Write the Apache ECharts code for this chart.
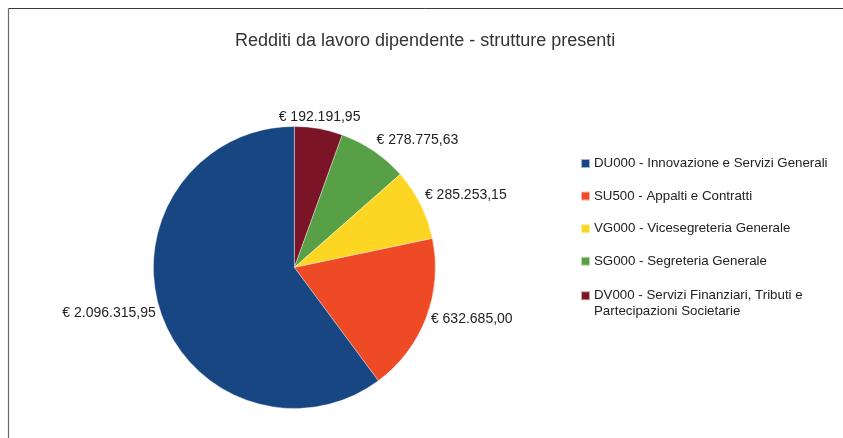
<!DOCTYPE html>
<html><head><meta charset="utf-8">
<script src="https://cdn.jsdelivr.net/npm/echarts@6/dist/echarts.min.js"></script>
<style>html,body{margin:0;padding:0;background:#fff}#c{width:843px;height:438px}</style>
</head><body><div id="c"></div>
<script>
const titleText = 'Redditi da lavoro dipendente - strutture presenti';
// data order = clockwise from 12 o'clock
const categories = [
  'DV000 - Servizi Finanziari, Tributi e Partecipazioni Societarie',
  'SG000 - Segreteria Generale',
  'VG000 - Vicesegreteria Generale',
  'SU500 - Appalti e Contratti',
  'DU000 - Innovazione e Servizi Generali'
];
const values = [192191.95, 278775.63, 285253.15, 632685.00, 2096315.95];
const colors = ['#7b1427', '#58a046', '#fdd623', '#ef4a26', '#184683'];
const legendOrderMain = [
  'DU000 - Innovazione e Servizi Generali',
  'SU500 - Appalti e Contratti',
  'VG000 - Vicesegreteria Generale',
  'SG000 - Segreteria Generale'
];
const legendOrderLast = ['DV000 - Servizi Finanziari, Tributi e Partecipazioni Societarie'];

function fmtEuro(v) {
  const parts = v.toFixed(2).split('.');
  return '€ ' + parts[0].replace(/\B(?=(\d{3})+(?!\d))/g, '.') + ',' + parts[1];
}

const FONT = "'Liberation Sans', Arial, Helvetica, sans-serif";
const chart = echarts.init(document.getElementById('c'), null, {renderer: 'canvas'});

const legendCommon = {
  orient: 'vertical', left: 580, padding: 0,
  itemWidth: 9, itemHeight: 9, itemGap: 19.6,
  icon: 'rect', selectedMode: false
};

chart.setOption({
  animation: false,
  color: colors,
  title: {
    text: titleText, left: 235, top: 32, padding: 0,
    textStyle: {fontSize: 18, fontWeight: 'normal', color: '#333', fontFamily: FONT}
  },
  graphic: [
    {type: 'line', silent: true, shape: {x1: 8.5, y1: 8.5, x2: 843, y2: 8.5}, style: {stroke: '#3a3a3a', lineWidth: 1}},
    {type: 'line', silent: true, shape: {x1: 8.5, y1: 8.5, x2: 8.5, y2: 438}, style: {stroke: '#6a6a6a', lineWidth: 1.2}}
  ],
  legend: [
    Object.assign({}, legendCommon, {
      top: 157,
      textStyle: {fontSize: 13.3, color: '#222', fontFamily: FONT, padding: [0, 0, 0, -1]},
      data: legendOrderMain
    }),
    Object.assign({}, legendCommon, {
      top: 271.7,
      // leading empty line keeps the icon level with the first text line
      formatter: function (name) { return '\n' + name; },
      textStyle: {
        fontSize: 13.3, color: '#222', fontFamily: FONT, lineHeight: 16,
        width: 222, overflow: 'break', padding: [0, 0, 0, -1]
      },
      data: legendOrderLast
    })
  ],
  series: [{
    type: 'pie',
    center: [294.4, 267.5],
    radius: 141,
    startAngle: 90,
    clockwise: true,
    avoidLabelOverlap: false,
    emphasis: {disabled: true},
    itemStyle: {borderColor: 'rgba(255,255,255,0.6)', borderWidth: 0.6},
    label: {
      show: true, position: 'outside',
      formatter: function (p) { return fmtEuro(p.value); },
      fontSize: 14, color: '#222', fontFamily: FONT
    },
    labelLine: {show: true, length: 5, length2: 0, lineStyle: {width: 0, opacity: 0}},
    labelLayout: function (p) {
      const pts = p.labelLinePoints;
      if (!pts || pts.length < 2) return {};
      let dx = pts[1][0] - pts[0][0], dy = pts[1][1] - pts[0][1];
      const L = Math.hypot(dx, dy) || 1; dx /= L; dy /= L;
      const ax = pts[1][0], ay = pts[1][1];
      const w = p.labelRect.width, h = p.labelRect.height;
      const ang = Math.atan2(-dy, dx) * 180 / Math.PI;
      const s = ((Math.round(ang / 45) % 8) + 8) % 8;
      let x, y;
      if (s === 0 || s === 1 || s === 7) x = ax;
      else if (s === 3 || s === 4 || s === 5) x = ax - w;
      else x = ax - w / 2;
      if (s === 1 || s === 2 || s === 3) y = ay - h;
      else if (s === 5 || s === 6 || s === 7) y = ay;
      else y = ay - h / 2;
      return {x: x, y: y, align: 'left', verticalAlign: 'top'};
    },
    data: categories.map(function (c, i) { return {name: c, value: values[i]}; })
  }]
});
</script></body></html>
